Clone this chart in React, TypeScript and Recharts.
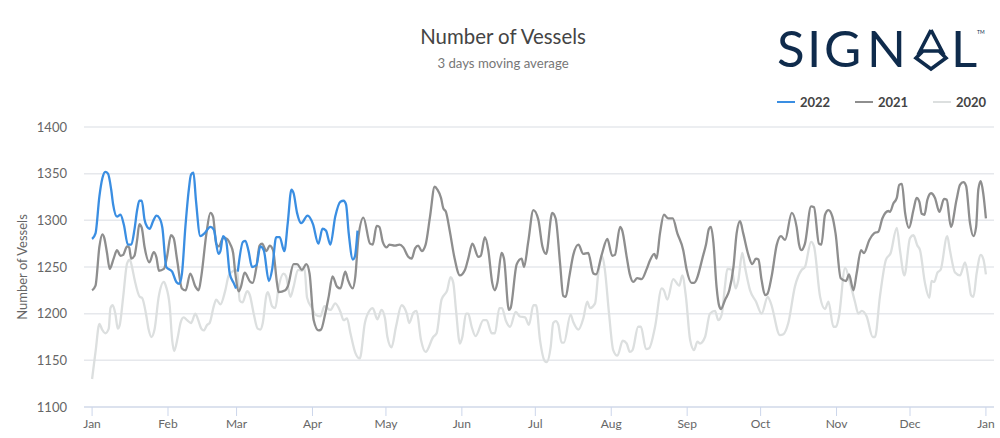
import React from "react";
import { LineChart, Line, XAxis, YAxis, CartesianGrid, Legend } from "recharts";

const FONT = "Lato, sans-serif";
const monthTicks = [0, 31, 59, 90, 120, 151, 181, 212, 243, 273, 304, 334, 365];
const monthLabels = ["Jan", "Feb", "Mar", "Apr", "May", "Jun", "Jul", "Aug", "Sep", "Oct", "Nov", "Dec", "Jan"];
const valueTicks = [1100, 1150, 1200, 1250, 1300, 1350, 1400];

const days2022 = [0,1.4,3,4.2,5.4,6.5,7.8,8.6,10.2,11.6,13,14.6,16,17.3,18.4,19.3,20.3,21.4,22.5,23.5,24.9,26.3,27.6,28.7,30.3,32.7,34.4,35.6,36.7,38.1,39.5,40.4,41.4,42.4,44.2,45.9,48.3,49.7,51.6,52.4,53.5,54.8,56.2,57.8,58.8,59.2,59.5,61.6,62.6,63.9,65.3,67.1,68.7,70.1,72.2,73.5,75.2,76.6,78.5,79.9,81.4,82.3,83.7,85.4,88,90.2,92.4,94.1,95.5,97.3,99.3,101.4,102.7,103.7,104.8,106.5,107.3,108.4];
const values2022 = [1280,1286,1326,1345,1352,1350,1333,1317,1304,1306,1295,1274,1274,1290,1311,1321,1321,1301,1293,1291,1299,1305,1302,1292,1250,1245,1234,1232,1243,1293,1333,1349,1351,1322,1283,1286,1293,1290,1264,1267,1283,1277,1243,1233,1227,null,1245,1277,1278,1267,1250,1252,1272,1268,1235,1247,1282,1282,1267,1297,1333,1329,1308,1297,1305,1296,1275,1291,1289,1274,1304,1320,1321,1317,1286,1258,1261,1289];

const days2021 = [0,1.4,3,4.2,5,6.1,7.2,8.8,10.2,11.6,12.7,14.3,15.1,16,17.3,18.4,19.3,20.3,21.4,23.4,25.2,26.3,27.3,29.3,30.6,32.2,33.3,34.7,36.7,38.2,40.1,42.2,43.5,44.6,46.7,48.3,49.4,50.7,51.7,53.5,54.4,56.5,57.6,58.5,59.9,60.8,62.3,64.6,65.6,67.1,68.4,69.4,71.2,72.5,73.9,75.5,76.2,78.9,79.9,82.3,83.7,85.7,87.5,88.8,90.5,92.5,93.5,95.2,96.6,98.2,100,101.4,103.4,104.5,106.4,107.5,108.8,110.8,113.5,114.6,116.2,117.3,118.7,120.3,121.4,123.7,125.5,127.1,129.1,130.5,131.9,133.2,134.6,136.2,138,139.9,141,142.5,143.4,144.5,146.1,147.9,150.2,152.3,153.6,155.3,157.7,158.7,160.4,161.8,163.4,164.5,165.5,167.2,168.2,170.2,170.9,173.4,175.4,176.4,178.1,180.2,182.2,183.9,185.4,187.9,189.3,191.1,192.4,193.4,194.9,196.5,198.6,200.6,202.6,204.7,205.8,208.1,210.4,212.4,213.5,215.6,216.5,218.3,219.6,221,222.6,224.4,226.5,227.8,229.6,230.5,231.9,233.5,235.3,237.1,239,241.4,242.8,244.8,245.8,249.6,250.7,251.9,252.7,253.7,255,256.1,256.8,258.5,260.2,261.9,263.2,264.6,265.9,268,269.6,271.1,272.1,273.4,274.8,275.7,277.5,279.6,281.3,283,285.7,287.7,288.7,289.6,291.1,293.6,294.8,296.8,297.8,299.3,300.7,302.3,303.6,305.7,307.9,309.1,310.9,312.2,314,315.2,317.4,319.3,321.1,322.7,325.2,325.8,327.2,328.6,329.6,330.7,332,333.6,335.4,336.7,337.8,338.8,339.9,341.1,342.6,344.2,346,347.9,349,350.7,353,354.4,355.8,356.9,358.5,359.9,361,361.9,362.9,363.9,365];
const values2021 = [1225,1230,1272,1285,1281,1265,1248,1259,1268,1262,1263,1272,1271,1259,1262,1279,1296,1292,1272,1255,1266,1260,1246,1248,1261,1284,1281,1258,1227,1225,1243,1229,1225,1240,1286,1308,1304,1275,1272,1281,1281,1274,1265,1243,1224,1229,1244,1234,1233,1250,1273,1275,1267,1273,1268,1233,1223,1225,1229,1253,1253,1247,1253,1243,1193,1182,1183,1200,1218,1240,1229,1227,1245,1236,1227,1240,1283,1303,1275,1274,1294,1293,1277,1271,1274,1273,1274,1271,1261,1259,1270,1273,1267,1274,1304,1336,1333,1324,1313,1309,1288,1261,1241,1247,1259,1275,1261,1262,1282,1268,1233,1225,1233,1265,1259,1204,1206,1253,1259,1250,1277,1311,1301,1272,1264,1308,1302,1254,1219,1218,1240,1263,1274,1264,1265,1243,1242,1263,1280,1262,1263,1293,1289,1261,1242,1234,1238,1237,1248,1257,1264,1259,1286,1306,1302,1302,1286,1268,1247,1233,1233,1263,1274,1291,1293,1277,1229,1208,1205,1215,1225,1250,1286,1299,1286,1263,1253,1259,1258,1236,1220,1221,1240,1274,1283,1279,1308,1293,1274,1268,1275,1315,1314,1275,1274,1306,1311,1304,1286,1238,1235,1242,1225,1243,1268,1265,1279,1286,1288,1302,1310,1309,1318,1324,1338,1339,1308,1292,1311,1324,1320,1307,1306,1322,1329,1324,1309,1323,1322,1293,1322,1338,1341,1337,1297,1283,1293,1333,1342,1329,1302];

const days2020 = [0,1.4,3,4.1,5.4,6.8,7.5,8.4,9.5,10.5,11.3,12.7,14.3,15.4,16.3,17.4,19.5,20.4,22,23.1,24.2,25.5,27.2,29.3,30.2,31.7,32.7,33.5,35,36.1,37.4,38.8,40.4,42.2,43.1,44.6,45.6,47,48,49.7,50.7,52.4,54.4,55.8,57.8,59.2,60.3,61.4,63.3,64.4,66,67.6,68.7,69.7,71.2,71.8,73.5,74.8,76.2,78.2,79.2,81,82.3,84.1,85.7,86.7,87.8,89.8,91.2,93.2,94.9,97.3,99.3,101.4,102.7,104.1,105.5,107.5,109.3,111.4,113.5,114.6,116.5,118.2,119.6,120.6,122.3,124.1,126.4,128.5,129.5,131.2,132.5,134.3,136.2,139.3,140.7,142.7,145,146.4,147.5,148.6,150.2,151.2,152.7,153.6,155,156.6,159.8,161.1,163.2,164.5,166.3,167.4,168.9,170.7,173,174.7,176.8,178.4,180.2,181.3,182.9,184.9,185.6,187.3,188.3,189.4,190.4,191.7,192.7,195.4,196.5,198.6,200.6,202.2,203.3,205.4,206.7,208.4,209.4,211.1,212.8,214.5,216.7,218.3,219.6,220.7,223,224.1,226.2,227.5,229.9,232.6,233.5,234.9,237.3,239.8,241,242.5,244.2,245.8,247.2,248.2,250.3,252.3,254.4,255.7,257.1,258.5,259.4,261.2,262.8,263.9,265.5,266.6,268.7,271.1,273.4,275.9,277.2,280.9,282.3,284.3,287,289.8,291.1,293.6,294.8,297.3,299.3,300.7,302.7,303.8,305,307.5,309.5,311.5,312.9,314.3,316.3,318.8,319.7,321.7,324.2,326.1,328.6,329.9,331.7,334,335.4,337,338.1,340.1,341.9,342.8,343.9,345.2,346.5,349.2,350.3,352.4,354.4,356.5,358.1,358.9,359.9,361.2,362.9,364,365];
const values2020 = [1130,1159,1189,1183,1179,1184,1206,1209,1200,1184,1188,1218,1254,1258,1250,1236,1218,1217,1200,1183,1175,1183,1218,1234,1229,1208,1172,1160,1175,1190,1196,1193,1190,1200,1195,1184,1182,1188,1190,1208,1215,1210,1225,1241,1246,1247,1214,1212,1224,1220,1200,1184,1183,1190,1220,1223,1208,1206,1229,1243,1240,1218,1229,1247,1246,1249,1217,1206,1199,1197,1208,1204,1211,1202,1193,1195,1179,1158,1152,1190,1204,1206,1194,1204,1195,1175,1164,1186,1209,1200,1190,1201,1203,1172,1159,1175,1179,1215,1225,1239,1233,1204,1168,1175,1200,1200,1186,1176,1193,1193,1179,1179,1206,1206,1193,1186,1202,1197,1196,1188,1209,1209,1172,1149,1148,1165,1190,1192,1188,1169,1169,1199,1191,1183,1195,1213,1206,1211,1243,1261,1247,1200,1161,1155,1171,1168,1159,1161,1186,1186,1162,1163,1186,1227,1225,1215,1237,1230,1241,1218,1172,1161,1170,1168,1175,1200,1203,1193,1199,1231,1248,1247,1227,1236,1265,1250,1225,1213,1200,1218,1211,1177,1178,1190,1229,1247,1250,1277,1272,1218,1205,1213,1186,1186,1197,1249,1233,1213,1200,1203,1197,1175,1175,1218,1258,1265,1292,1268,1241,1281,1284,1273,1268,1233,1217,1235,1234,1244,1247,1283,1268,1244,1241,1255,1233,1220,1218,1243,1263,1258,1242];

const toRows = (days: number[], values: (number | null)[]) => days.map((day, i) => ({ day, value: values[i] }));
const series = [
  { name: "2020", color: "#dcdfdf", rows: toRows(days2020, values2020) },
  { name: "2021", color: "#8e8e8e", rows: toRows(days2021, values2021) },
  { name: "2022", color: "#3a8ee2", rows: toRows(days2022, values2022) },
];
const legendOrder = ["2022", "2021", "2020"];

function ChartLegend() {
  return (
    <div style={{ display: "flex", fontFamily: FONT, fontSize: 13, fontWeight: 700, color: "#444" }}>
      {legendOrder.map((name) => {
        const color = series.find((s) => s.name === name)!.color;
        return (
          <div key={name} style={{ display: "flex", alignItems: "center", flex: "none", width: name === "2020" ? 56 : 78 }}>
            <span style={{ flex: "none", width: 18, height: 2, background: color, marginRight: 5 }} />
            <span>{name}</span>
          </div>
        );
      })}
    </div>
  );
}

function Logo() {
  const navy = "#0f2b4c";
  return (
    <svg width={225} height={85} style={{ position: "absolute", left: 770, top: 5 }}>
      <text y={62} fontFamily={FONT} fontSize={51} fontWeight={400} fill={navy} x="7 37 54 97">SIGN</text>
      <path d="M161 25 L148 50 M161 25 L174 50 M146 53 L153 46 L169 46 L176 53 L161 64 Z" fill="none" stroke={navy} strokeWidth={3.6} />
      <text x={181} y={62} fontFamily={FONT} fontSize={51} fontWeight={400} fill={navy}>L</text>
      <text x={207} y={29} fontFamily={FONT} fontSize={5} fill={navy}>TM</text>
    </svg>
  );
}

export default function App() {
  return (
    <div style={{ position: "absolute", left: 0, top: 0, width: 1000, height: 438, background: "#fff", overflow: "hidden" }}>
      <div style={{ position: "absolute", left: 303, width: 400, top: 24, textAlign: "center", fontFamily: FONT, fontSize: 20.4, color: "#444" }}>Number of Vessels</div>
      <div style={{ position: "absolute", left: 303, width: 400, top: 55, textAlign: "center", fontFamily: FONT, fontSize: 13.2, color: "#777" }}>3 days moving average</div>
      <Logo />
      <LineChart width={1000} height={438} margin={{ top: 111, right: 6, bottom: 1, left: 0 }}>
        <CartesianGrid vertical={false} stroke="#e6e8ec" strokeWidth={1.5} />
        <XAxis
          dataKey="day"
          type="number"
          domain={[-3.3, 368.3]}
          ticks={monthTicks}
          interval={0}
          tickFormatter={(d: number) => monthLabels[monthTicks.indexOf(d)]}
          stroke="#ccd6eb"
          tickSize={9}
          tick={{ fill: "#666", fontFamily: FONT, fontSize: 12 }}
          tickMargin={3}
          allowDataOverflow
        />
        <YAxis
          domain={[1100, 1400]}
          ticks={valueTicks}
          width={84}
          axisLine={false}
          tickLine={false}
          tickMargin={11}
          tick={{ fill: "#666", fontFamily: FONT, fontSize: 13 }}
          label={{ value: "Number of Vessels", angle: -90, position: "insideLeft", offset: 22, style: { textAnchor: "middle", fill: "#666", fontFamily: FONT, fontSize: 13 } }}
        />
        <Legend verticalAlign="top" align="right" content={<ChartLegend />} wrapperStyle={{ position: "absolute", left: 777, top: 94, width: 223 }} />
        {series.map((s) => (
          <Line key={s.name} data={s.rows} dataKey="value" name={s.name} type="monotone" stroke={s.color} strokeWidth={2.3} dot={false} activeDot={false} isAnimationActive={false} />
        ))}
      </LineChart>
    </div>
  );
}
